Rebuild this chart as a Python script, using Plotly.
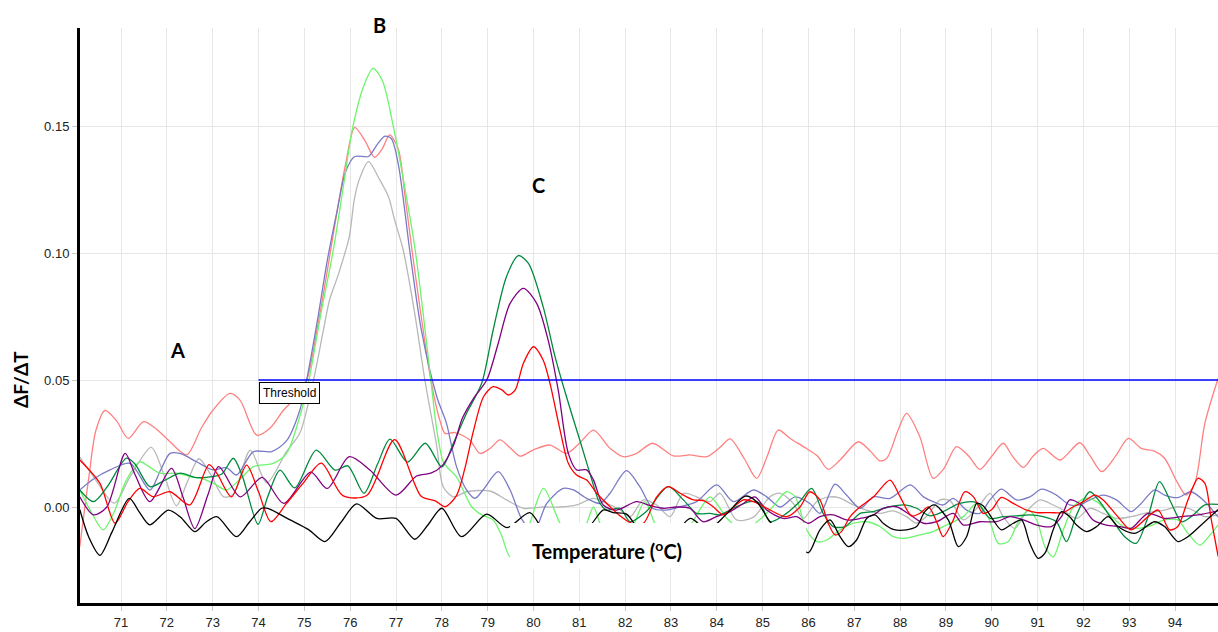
import plotly.graph_objects as go

# ---- data (temperature °C, dF/dT) ----
SALMON = [(70.1,-0.0156),(70.3,0.012),(70.45,0.03),(70.65,0.038),(70.9,0.034),(71.16,0.027),(71.49,0.0336),(71.75,0.031),(72.03,0.0264),(72.43,0.0205),(72.75,0.031),(73.0,0.038),(73.38,0.0447),(73.6,0.042),(73.96,0.0283),(74.25,0.031),(74.54,0.038),(74.8,0.043),(75.05,0.05),(75.3,0.072),(75.5,0.093),(75.72,0.117),(75.9,0.135),(76.1,0.1495),(76.33,0.144),(76.53,0.1377),(76.7,0.141),(76.86,0.1465),(77.05,0.141),(77.2,0.122),(77.35,0.101),(77.55,0.075),(77.76,0.05),(77.96,0.034),(78.07,0.029),(78.29,0.0293),(78.61,0.0264),(78.83,0.0211),(79.05,0.023),(79.27,0.0264),(79.5,0.0231),(79.71,0.0200),(80.0,0.0225),(80.36,0.0244),(80.72,0.0211),(81.0,0.025),(81.31,0.0303),(81.67,0.0231),(81.96,0.0198),(82.25,0.0211),(82.6,0.0251),(83.05,0.0201),(83.41,0.0205),(83.78,0.0198),(84.07,0.0235),(84.29,0.0268),(84.6,0.019),(84.87,0.0113),(85.1,0.02),(85.34,0.0303),(85.6,0.027),(85.95,0.0231),(86.2,0.02),(86.43,0.0148),(86.69,0.0185),(87.09,0.0257),(87.35,0.022),(87.56,0.0182),(87.71,0.0192),(87.95,0.03),(88.14,0.0369),(88.43,0.0277),(88.72,0.0113),(88.95,0.015),(89.23,0.0238),(89.5,0.02),(89.74,0.0148),(90.0,0.02),(90.25,0.0251),(90.45,0.02),(90.69,0.0156),(90.9,0.02),(91.12,0.0231),(91.49,0.0185),(91.92,0.0253),(92.15,0.02),(92.4,0.0139),(92.7,0.02),(92.98,0.027),(93.26,0.0231),(93.55,0.022),(93.77,0.0192),(94.06,0.0093),(94.24,0.0047),(94.43,0.0093),(94.65,0.033),(94.94,0.0507)]

BLACK = [(70.1,-0.001),(70.3,-0.012),(70.54,-0.019),(70.8,-0.01),(71.18,0.0034),(71.4,-0.002),(71.63,-0.007),(72.03,-0.0012),(72.3,-0.004),(72.61,-0.0097),(72.85,-0.006),(73.09,-0.0038),(73.52,-0.0117),(73.8,-0.006),(74.07,-0.0005),(74.2,-0.0005),(74.69,-0.0051),(75.1,-0.009),(75.45,-0.0136),(75.8,-0.006),(76.14,0.0012),(76.58,-0.0045),(77.0,-0.0045),(77.41,-0.0127),(77.7,-0.007),(78.0,-0.0005),(78.43,-0.0117),(78.98,-0.0028),(79.42,-0.0081),(79.92,-0.0022),(80.29,-0.011),(80.8,-0.013),(81.25,-0.007),(81.52,-0.0012),(81.74,-0.0022),(82.03,-0.0028),(82.4,-0.011),(83.0,-0.012),(83.42,-0.0045),(83.8,-0.009),(84.2,-0.003),(84.62,0.0043),(84.87,0.0021),(85.16,-0.0058),(85.5,-0.012),(85.8,-0.016),(86.0,-0.018),(86.25,-0.009),(86.47,-0.0051),(86.69,-0.0117),(86.87,-0.0156),(87.05,-0.013),(87.27,-0.0045),(87.45,-0.0031),(87.63,-0.0064),(87.85,-0.0088),(88.14,-0.009),(88.36,-0.0077),(88.54,-0.0018),(88.75,0.0008),(89.05,-0.0051),(89.27,-0.0156),(89.45,-0.0117),(89.67,0.0014),(89.81,0.0005),(90.03,-0.0051),(90.21,-0.009),(90.47,-0.0064),(90.65,-0.0051),(90.83,-0.0143),(91.01,-0.0202),(91.16,-0.0182),(91.34,-0.009),(91.52,-0.0018),(91.7,-0.0038),(91.85,-0.0071),(92.07,-0.0097),(92.29,-0.0077),(92.54,-0.0038),(92.75,-0.0077),(93.12,-0.0104),(93.55,-0.0058),(93.77,-0.0077),(94.06,-0.0136),(94.28,-0.0117),(94.57,-0.0071),(94.94,-0.001)]

LIGHTGREEN = [(70.1,0.0067),(70.35,-0.002),(70.61,-0.009),(70.85,-0.002),(71.1,0.01),(71.41,0.0178),(71.6,0.016),(71.85,0.0133),(72.21,0.0133),(72.5,0.012),(72.8,0.011),(73.05,0.009),(73.3,0.0067),(73.6,0.011),(73.89,0.0159),(74.32,0.0172),(74.61,0.021),(74.9,0.0356),(75.1,0.05),(75.35,0.075),(75.63,0.101),(75.85,0.126),(76.05,0.149),(76.3,0.166),(76.5,0.1727),(76.7,0.168),(76.94,0.15),(77.2,0.125),(77.42,0.101),(77.6,0.075),(77.76,0.05),(77.89,0.0303),(78.03,0.0178),(78.14,0.0152),(78.32,0.0119),(78.65,0.0001),(78.87,-0.0031),(79.12,-0.0051),(79.3,-0.011),(79.49,-0.0196),(79.7,-0.016),(79.92,-0.0064),(80.22,0.0073),(80.58,-0.0064),(80.9,-0.014),(81.16,-0.0064),(81.31,0.0),(81.5,-0.008),(82.0,-0.013),(82.43,0.0021),(82.7,-0.008),(83.2,-0.012),(83.85,0.004),(84.07,-0.0005),(84.22,-0.0045),(84.6,-0.009),(85.16,-0.0012),(85.52,0.006),(85.71,0.004),(85.96,-0.009),(86.18,-0.0136),(86.4,-0.013),(86.69,-0.009),(86.98,-0.0064),(87.27,-0.0058),(87.56,-0.0077),(87.85,-0.0117),(88.1,-0.0123),(88.43,-0.011),(88.72,-0.0097),(89.01,-0.0071),(89.38,-0.0038),(89.67,0.0014),(89.92,-0.0038),(90.14,-0.0143),(90.36,-0.0136),(90.58,-0.0058),(90.8,-0.0012),(90.98,-0.0051),(91.16,-0.0156),(91.34,-0.0196),(91.56,-0.009),(91.78,0.0001),(92.03,0.0034),(92.29,0.0021),(92.58,-0.0031),(92.87,-0.0077),(93.04,-0.0084),(93.41,-0.0077),(93.77,-0.0051),(94.06,-0.0051),(94.28,-0.0104),(94.54,-0.015),(94.79,-0.0104),(94.94,-0.007)]

GREY = [(70.1,0.0196),(70.4,0.012),(70.85,0.0015),(71.2,0.012),(71.66,0.0235),(71.95,0.012),(72.21,0.0005),(72.45,0.01),(72.7,0.019),(72.95,0.013),(73.24,0.004),(73.45,0.005),(73.82,0.0224),(74.18,0.0095),(74.61,0.0218),(74.9,0.029),(75.2,0.05),(75.42,0.07),(75.55,0.0815),(75.75,0.092),(75.98,0.1064),(76.09,0.121),(76.2,0.129),(76.4,0.136),(76.64,0.129),(76.84,0.122),(76.97,0.113),(77.16,0.101),(77.42,0.075),(77.63,0.05),(77.89,0.0238),(78.03,0.008),(78.25,0.004),(78.54,0.006),(79.05,0.0063),(79.41,0.0028),(79.78,-0.0005),(80.22,0.0),(80.58,0.0),(80.94,0.0008),(81.31,0.0034),(81.6,0.0014),(81.89,-0.0012),(82.11,-0.0038),(82.4,0.0028),(82.69,0.0008),(82.98,-0.0038),(83.27,0.0054),(83.56,0.004),(83.85,0.0021),(84.07,0.0054),(84.43,-0.0051),(84.8,-0.004),(85.16,0.004),(85.38,0.0054),(85.67,0.0014),(85.89,-0.0045),(86.18,0.0021),(86.47,0.004),(86.69,0.0035),(86.98,0.0008),(87.27,-0.0012),(87.56,-0.0025),(87.85,-0.0015),(88.14,-0.0038),(88.36,-0.0064),(88.61,-0.0031),(88.87,0.0028),(89.09,0.0025),(89.38,-0.0051),(89.74,0.0008),(89.96,0.0054),(90.25,-0.0038),(90.5,-0.0084),(90.76,-0.0018),(91.05,0.0028),(91.34,0.0008),(91.56,-0.0012),(91.85,-0.0045),(92.14,-0.0005),(92.43,-0.0025),(92.72,-0.0045),(93.04,-0.0038),(93.34,-0.0025),(93.77,-0.0012),(94.06,0.0001),(94.35,-0.0009),(94.65,-0.0038),(94.94,-0.003)]

BLUE = [(70.1,0.0067),(70.4,0.011),(70.76,0.0146),(71.2,0.0172),(71.63,0.0067),(71.85,0.014),(72.07,0.0211),(72.3,0.021),(72.65,0.0178),(73.01,0.0146),(73.3,0.0155),(73.52,0.0126),(73.89,0.0218),(74.29,0.0218),(74.61,0.026),(74.9,0.038),(75.05,0.05),(75.3,0.075),(75.5,0.097),(75.72,0.117),(75.9,0.132),(76.1,0.138),(76.4,0.138),(76.6,0.143),(76.76,0.146),(76.9,0.145),(77.05,0.135),(77.3,0.101),(77.55,0.07),(77.89,0.0434),(78.1,0.033),(78.32,0.0159),(78.54,0.0067),(78.72,0.0034),(78.9,0.0067),(79.23,0.0139),(79.49,0.0067),(79.75,-0.005),(80.0,-0.01),(80.29,0.0014),(80.65,0.0073),(80.87,0.0067),(81.16,0.0034),(81.45,0.0014),(81.67,0.0054),(82.03,0.0143),(82.32,0.008),(82.6,-0.0005),(82.9,-0.0012),(83.2,0.0001),(83.56,0.0021),(84.0,0.0087),(84.36,0.0021),(84.8,0.0067),(85.09,0.004),(85.38,0.0),(85.71,0.004),(86.03,0.0014),(86.25,-0.0025),(86.58,0.009),(86.83,0.0047),(87.13,-0.0005),(87.42,0.004),(87.78,0.0034),(88.22,0.0087),(88.51,0.004),(88.72,0.0021),(88.94,0.0008),(89.16,0.0034),(89.45,-0.0012),(89.74,-0.0025),(89.96,0.0028),(90.21,0.007),(90.54,0.0028),(90.83,0.004),(91.09,0.007),(91.41,0.0047),(91.7,0.0008),(91.92,0.0008),(92.14,0.0028),(92.43,0.0047),(92.72,0.0028),(93.04,-0.0018),(93.26,0.0014),(93.55,0.0067),(93.77,0.0047),(94.06,0.0037),(94.35,0.006),(94.65,0.0021),(94.94,-0.004)]

DARKGREEN = [(70.1,0.0067),(70.4,0.0021),(70.7,0.008),(71.12,0.0192),(71.3,0.017),(71.63,0.008),(71.9,0.01),(72.29,0.0133),(72.6,0.0117),(72.87,0.0117),(73.2,0.013),(73.45,0.0192),(73.65,0.012),(73.99,-0.0068),(74.2,0.004),(74.47,0.0145),(74.79,0.0075),(75.26,0.0224),(75.67,0.0145),(75.95,0.0162),(76.3,0.0054),(76.6,0.017),(76.87,0.0267),(77.25,0.0177),(77.64,0.0251),(78.0,0.0158),(78.25,0.025),(78.54,0.0369),(78.87,0.0487),(79.12,0.0697),(79.41,0.0907),(79.67,0.099),(79.89,0.0959),(80.21,0.0789),(80.47,0.0592),(80.72,0.0434),(81.01,0.0264),(81.23,0.0133),(81.45,0.0014),(81.6,-0.0012),(81.89,-0.0005),(82.11,-0.0058),(82.45,-0.002),(82.94,0.008),(83.27,0.0028),(83.56,-0.0025),(83.85,-0.0025),(84.07,-0.0031),(84.36,-0.0005),(84.72,0.0021),(84.94,0.0015),(85.16,-0.0058),(85.52,-0.0025),(85.8,0.002),(86.07,0.0073),(86.32,-0.0025),(86.54,-0.0077),(86.8,-0.0077),(87.13,-0.0025),(87.42,-0.0018),(87.78,0.0001),(88.1,0.0008),(88.36,-0.0005),(88.65,-0.0035),(88.94,-0.0018),(89.3,0.0014),(89.67,0.0017),(89.96,-0.0045),(90.25,-0.0038),(90.54,-0.0035),(90.83,-0.0031),(91.12,-0.0038),(91.41,-0.0058),(91.63,-0.0136),(91.85,-0.0031),(92.14,0.006),(92.36,0.002),(92.61,-0.0045),(92.9,-0.0117),(93.15,-0.0143),(93.41,-0.0038),(93.66,0.01),(93.92,0.0014),(94.14,-0.0058),(94.35,-0.0038),(94.65,0.0008),(94.94,0.001)]

PURPLE = [(70.1,0.004),(70.4,-0.0031),(70.69,0.0),(71.09,0.0211),(71.3,0.013),(71.63,0.0021),(72.1,0.0152),(72.35,0.004),(72.61,-0.0085),(72.9,0.005),(73.13,0.0159),(73.6,0.004),(74.08,0.0117),(74.55,0.0014),(75.14,0.0137),(75.5,0.0073),(75.98,0.0198),(76.43,0.0146),(77.0,0.0047),(77.45,0.0122),(77.76,0.0133),(78.0,0.0161),(78.25,0.024),(78.45,0.035),(78.7,0.043),(78.98,0.05),(79.23,0.0644),(79.49,0.0802),(79.78,0.0861),(80.07,0.0802),(80.32,0.0657),(80.54,0.046),(80.76,0.0211),(80.94,0.0146),(81.16,0.0146),(81.31,0.0106),(81.52,0.0008),(81.81,-0.0012),(82.25,0.0021),(82.55,0.0005),(82.83,-0.0005),(83.12,0.0),(83.41,-0.0005),(83.7,-0.0058),(83.99,-0.0038),(84.29,-0.0018),(84.58,0.0014),(84.83,0.004),(85.09,-0.0012),(85.45,-0.0045),(85.74,-0.0038),(86.0,-0.0064),(86.25,-0.0038),(86.54,-0.0031),(86.83,-0.0051),(87.13,-0.0045),(87.42,-0.0031),(87.63,-0.0005),(87.92,0.0001),(88.22,-0.0031),(88.51,-0.0064),(88.8,-0.0058),(89.16,-0.0025),(89.38,-0.0071),(89.74,-0.0058),(90.1,-0.0058),(90.4,-0.0038),(90.69,-0.0051),(90.98,-0.0071),(91.3,-0.0077),(91.52,-0.0038),(91.7,0.0028),(91.96,0.0008),(92.21,-0.0051),(92.5,-0.0071),(92.8,-0.0077),(93.04,-0.0084),(93.41,-0.0025),(93.77,-0.0045),(94.14,-0.0038),(94.5,-0.0031),(94.94,-0.0015)]

RED = [(70.1,0.0185),(70.54,0.0093),(70.87,-0.0064),(71.15,0.002),(71.41,0.0073),(71.7,0.0041),(72.07,0.006),(72.5,0.0008),(72.92,0.0167),(73.1,0.013),(73.41,0.004),(73.74,0.0165),(74.0,0.006),(74.27,-0.0058),(74.61,0.0014),(74.98,0.0095),(75.37,0.0173),(75.84,0.0045),(76.36,0.0045),(76.97,0.0265),(77.55,0.0042),(77.86,0.0024),(78.07,0.0001),(78.32,0.0045),(78.5,0.015),(78.69,0.03),(78.91,0.0434),(79.12,0.0474),(79.31,0.0461),(79.45,0.0441),(79.6,0.046),(79.78,0.0566),(80.0,0.0631),(80.21,0.0579),(80.36,0.0487),(80.58,0.0303),(80.76,0.0172),(80.94,0.0126),(81.16,0.0106),(81.38,0.0054),(81.67,0.0001),(81.89,-0.0035),(82.15,-0.0065),(82.4,-0.0064),(82.69,0.004),(82.94,0.008),(83.2,0.0054),(83.49,0.0028),(83.71,0.0025),(83.92,0.0001),(84.14,-0.0031),(84.29,-0.0012),(84.58,0.0028),(84.8,0.0021),(85.09,-0.0005),(85.52,-0.0038),(85.82,0.0001),(86.03,0.006),(86.25,0.0028),(86.43,-0.0064),(86.58,-0.011),(86.72,-0.0097),(86.91,-0.0038),(87.13,0.0001),(87.42,0.004),(87.78,0.0106),(88.0,0.004),(88.25,-0.0035),(88.43,-0.0025),(88.62,0.0),(88.8,-0.006),(88.94,-0.0117),(89.16,-0.0051),(89.41,0.006),(89.6,0.004),(89.81,-0.0025),(90.0,-0.001),(90.21,0.0038),(90.47,0.0014),(90.76,-0.0012),(90.98,-0.0022),(91.27,-0.0022),(91.56,-0.0022),(91.78,0.0001),(92.0,0.0021),(92.25,0.0047),(92.43,0.0028),(92.75,-0.0038),(93.04,-0.009),(93.41,-0.0038),(93.63,-0.0012),(93.88,-0.009),(94.06,-0.0077),(94.28,0.0028),(94.5,0.0113),(94.65,0.0093),(94.79,-0.0051),(94.94,-0.0195)]

THRESHOLD = 0.05
THRESHOLD_START = 74.0
X_TICKS = list(range(71, 96))
Y_TICKS = [0.0, 0.05, 0.10, 0.15]
Y_TICK_TEXT = ["0.00", "0.05", "0.10", "0.15"]
PEAK_LABELS = [("A", 72.24, 0.0618), ("B", 76.65, 0.1898), ("C", 80.1, 0.1268)]

SERIES = [
    (SALMON, "#ff8080"),
    (GREY, "#b8b8b8"),
    (BLUE, "#7a7ac6"),
    (LIGHTGREEN, "#6cf56c"),
    (DARKGREEN, "#008a3e"),
    (PURPLE, "#800080"),
    (RED, "#ff0000"),
    (BLACK, "#000000"),
]

X_RANGE = [70.105, 94.936]
Y_RANGE = [-0.0378, 0.1886]

TICK_FONT = dict(family="Liberation Sans Narrow, Arial Narrow, Liberation Sans, sans-serif", size=13, color="#222222")
BOLD_FONT = "Lato, Open Sans, sans-serif"

fig = go.Figure()
for pts, col in SERIES:
    fig.add_trace(go.Scatter(
        x=[p[0] for p in pts], y=[p[1] for p in pts], mode="lines",
        line=dict(color=col, width=1.3, shape="spline", smoothing=0.8),
        hoverinfo="skip", showlegend=False))

# threshold line
fig.add_trace(go.Scatter(x=[THRESHOLD_START, 96], y=[THRESHOLD, THRESHOLD], mode="lines",
                         line=dict(color="#0000ff", width=1.5), hoverinfo="skip", showlegend=False))

# white box behind the x-axis title (covers curves)
fig.add_shape(type="rect", xref="x", yref="y", x0=79.49, x1=85.95, y0=-0.0063, y1=-0.0245,
              fillcolor="white", line=dict(width=0), layer="above")

fig.add_annotation(x=THRESHOLD_START, y=THRESHOLD, xref="x", yref="y", text="Threshold",
                   showarrow=False, xanchor="left", yanchor="top", yshift=-2,
                   font=dict(family="Liberation Sans Narrow, Arial Narrow, Liberation Sans, sans-serif", size=12, color="black"),
                   bgcolor="white", bordercolor="black", borderwidth=1, borderpad=3)

y_span = Y_RANGE[1] - Y_RANGE[0]
for lab, lx, ly in PEAK_LABELS:
    fig.add_annotation(x=lx, y=(ly - Y_RANGE[0]) / y_span, xref="x", yref="paper", text=f"<b>{lab}</b>",
                       xanchor="center", yanchor="middle",
                       showarrow=False, font=dict(family=BOLD_FONT, size=20, color="black"))

fig.add_annotation(x=81.6, y=-0.0168, xref="x", yref="y", text="<b>Temperature (<sup>o</sup>C)</b>",
                   xanchor="center", yanchor="middle",
                   showarrow=False, font=dict(family=BOLD_FONT, size=20, color="black"))

fig.add_annotation(x=0, xshift=-60, y=0.05, xref="paper", yref="y", text="<b>ΔF/ΔT</b>", textangle=-90,
                   xanchor="center", yanchor="middle",
                   showarrow=False, font=dict(family=BOLD_FONT, size=19, color="black"))

fig.update_xaxes(range=X_RANGE, tickvals=X_TICKS, showgrid=True, gridcolor="#e6e6e6", gridwidth=1,
                 showline=True, linecolor="black", linewidth=3, ticks="outside", ticklen=5,
                 tickcolor="#c8c8c8", zeroline=False, tickfont=TICK_FONT)
fig.update_yaxes(range=Y_RANGE, tickvals=Y_TICKS, ticktext=Y_TICK_TEXT, showgrid=True, gridcolor="#e6e6e6",
                 gridwidth=1, showline=True, linecolor="black", linewidth=3, ticks="outside", ticklen=5,
                 tickcolor="#c8c8c8", zeroline=False, tickfont=TICK_FONT)

fig.update_layout(width=1218, height=632, margin=dict(l=80, r=0, t=28, b=29),
                  plot_bgcolor="white", paper_bgcolor="white", showlegend=False)

fig.write_html("out.html")
